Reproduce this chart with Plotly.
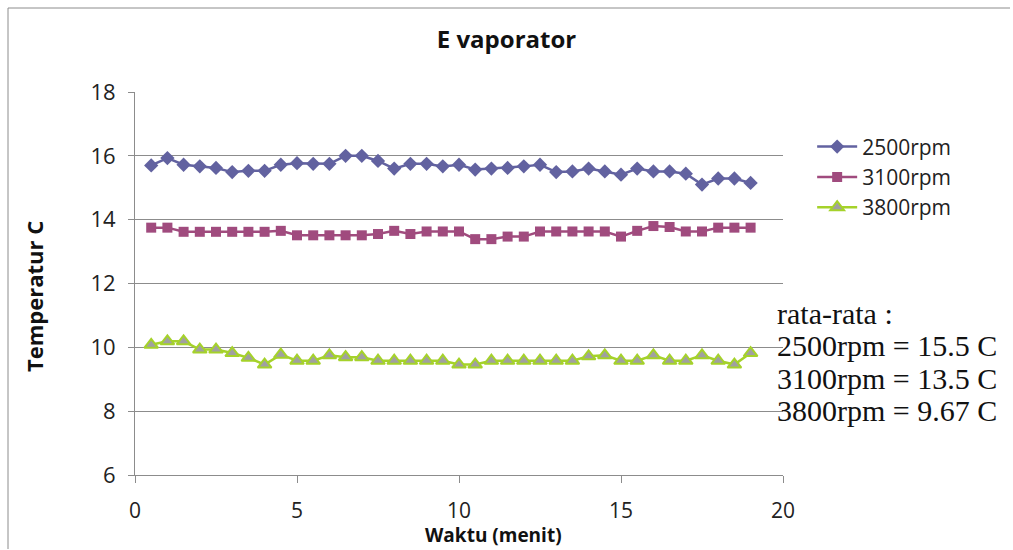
import plotly.graph_objects as go

waktu = [0.5, 1, 1.5, 2, 2.5, 3, 3.5, 4, 4.5, 5, 5.5, 6, 6.5, 7, 7.5, 8, 8.5, 9, 9.5,
         10, 10.5, 11, 11.5, 12, 12.5, 13, 13.5, 14, 14.5, 15, 15.5, 16, 16.5, 17, 17.5, 18, 18.5, 19]

rpm2500 = [15.70, 15.93, 15.72, 15.67, 15.62, 15.49, 15.53, 15.53, 15.72, 15.77, 15.75, 15.75, 16.0, 16.0, 15.84,
           15.60, 15.75, 15.75, 15.67, 15.72, 15.57, 15.60, 15.62, 15.67, 15.72, 15.49, 15.51, 15.60, 15.51,
           15.41, 15.60, 15.51, 15.51, 15.44, 15.10, 15.29, 15.29, 15.15]

rpm3100 = [13.75, 13.75, 13.62, 13.62, 13.62, 13.62, 13.62, 13.62, 13.65, 13.51, 13.51, 13.51, 13.51, 13.51,
           13.55, 13.65, 13.55, 13.63, 13.63, 13.63, 13.39, 13.39, 13.47, 13.47, 13.63, 13.63, 13.63, 13.63,
           13.63, 13.47, 13.65, 13.80, 13.77, 13.63, 13.63, 13.75, 13.75, 13.75]

rpm3800 = [10.08, 10.19, 10.19, 9.93, 9.93, 9.82, 9.67, 9.46, 9.77, 9.58, 9.58, 9.75, 9.69, 9.69, 9.58, 9.58,
           9.58, 9.58, 9.58, 9.46, 9.46, 9.58, 9.58, 9.58, 9.58, 9.58, 9.58, 9.72, 9.75, 9.58, 9.58, 9.75,
           9.58, 9.58, 9.75, 9.58, 9.46, 9.82]

series_names = ["2500rpm", "3100rpm", "3800rpm"]
rata_rata = ["rata-rata :", "2500rpm = 15.5 C", "3100rpm = 13.5 C", "3800rpm = 9.67 C"]

sans = "Open Sans, Noto Sans, Liberation Sans, sans-serif"
serif = "Liberation Serif, DejaVu Serif, serif"

fig = go.Figure()
fig.add_trace(go.Scatter(
    x=waktu, y=rpm2500, name=series_names[0], mode="lines+markers",
    line=dict(color="#6262A0", width=2.5),
    marker=dict(symbol="diamond", size=11, color="#6262A0")))
fig.add_trace(go.Scatter(
    x=waktu, y=rpm3100, name=series_names[1], mode="lines+markers",
    line=dict(color="#A04B7E", width=2.5),
    marker=dict(symbol="square", size=10, color="#A04B7E")))
fig.add_trace(go.Scatter(
    x=waktu, y=rpm3800, name=series_names[2], mode="lines+markers",
    line=dict(color="#A5D22A", width=2.5),
    marker=dict(symbol="triangle-up", size=12, color="#A0A0A0",
                line=dict(color="#A5D22A", width=2))))

fig.update_layout(
    width=1013, height=550,
    margin=dict(l=135, r=230, t=92, b=75),
    paper_bgcolor="white", plot_bgcolor="white",
    font=dict(family=sans, size=21, color="#222222"),
    title=dict(text="<b>E vaporator</b>", x=0.5, xref="container", xanchor="center",
               y=1 - 40 / 550, yref="container", yanchor="middle",
               font=dict(family=sans, size=24, color="#111111")),
    showlegend=True,
    legend=dict(x=1.045, xanchor="left", y=0.91, yanchor="top",
                font=dict(family=sans, size=21, color="#222222"),
                bgcolor="rgba(0,0,0,0)", tracegroupgap=0, itemwidth=40),
)

fig.update_xaxes(range=[0, 20], tickvals=[0, 5, 10, 15, 20], showgrid=False, zeroline=False,
                 showline=True, linecolor="#8C8C8C", linewidth=1,
                 ticks="outside", ticklen=7, tickcolor="#8C8C8C", ticklabelstandoff=10,
                 tickfont=dict(family=sans, size=21, color="#222222"))
fig.update_yaxes(range=[6, 18], tickvals=[6, 8, 10, 12, 14, 16, 18], showgrid=True,
                 gridcolor="#8C8C8C", gridwidth=1, zeroline=False,
                 showline=True, linecolor="#8C8C8C", linewidth=1,
                 ticks="outside", ticklen=6, tickcolor="#8C8C8C", ticklabelstandoff=8,
                 tickfont=dict(family=sans, size=22, color="#222222"))

# axis titles
fig.add_annotation(text="<b>Waktu (menit)</b>", xref="paper", yref="paper",
                   x=(493 - 135) / 648, y=(475 - 535) / 383, xanchor="center", yanchor="middle",
                   showarrow=False, font=dict(family=sans, size=19, color="#111111"))
fig.add_annotation(text="<b>Temperatur C</b>", xref="paper", yref="paper", textangle=-90,
                   x=(34 - 135) / 648, y=(475 - 297) / 383, xanchor="center", yanchor="middle",
                   showarrow=False, font=dict(family=sans, size=22, color="#111111"))

# average notes
for txt, ypx in zip(rata_rata, [313, 345, 378, 410]):
    fig.add_annotation(text=txt, xref="paper", yref="paper",
                       x=(775 - 135) / 648, y=(475 - ypx) / 383, xanchor="left", yanchor="middle",
                       showarrow=False, font=dict(family=serif, size=30, color="#111111"))

# chart-area border (top and left)
fig.add_shape(type="line", xref="paper", yref="paper",
              x0=(8 - 135) / 648, x1=(1010 - 135) / 648, y0=(475 - 8) / 383, y1=(475 - 8) / 383,
              line=dict(color="#8C8C8C", width=1))
fig.add_shape(type="line", xref="paper", yref="paper",
              x0=(8 - 135) / 648, x1=(8 - 135) / 648, y0=(475 - 8) / 383, y1=(475 - 549) / 383,
              line=dict(color="#8C8C8C", width=1))

fig.write_html("out.html", config={"displayModeBar": False})
